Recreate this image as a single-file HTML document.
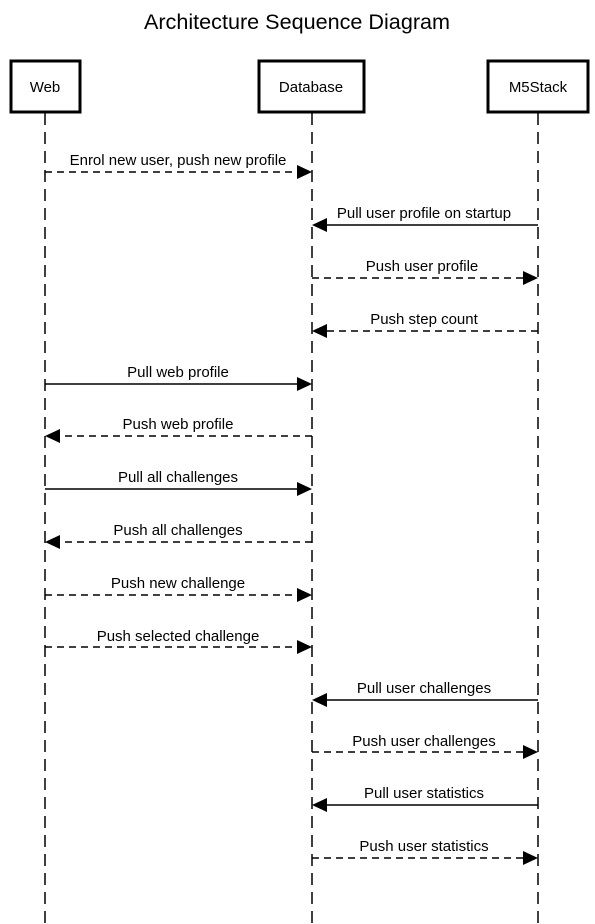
<!DOCTYPE html>
<html><head><meta charset="utf-8"><style>
html,body{margin:0;padding:0;background:#fff}
svg{display:block}
text{font-family:"Liberation Sans",Helvetica,Arial,sans-serif;fill:#000}
</style></head><body>
<svg width="595" height="924" viewBox="0 0 595 924" xmlns="http://www.w3.org/2000/svg">
<text x="297" y="29" font-size="21.6" text-anchor="middle">Architecture Sequence Diagram</text>
<g stroke="#000" stroke-width="1.5" fill="none" stroke-dasharray="12,7">
<line x1="45" y1="113" x2="45" y2="924"/>
<line x1="312" y1="113" x2="312" y2="924"/>
<line x1="538" y1="113" x2="538" y2="924"/>
</g>
<g stroke="#000" stroke-width="3" fill="#fff">
<rect x="11" y="61" width="69" height="51"/>
<rect x="259" y="61" width="105" height="51"/>
<rect x="488" y="61" width="100" height="51"/>
</g>
<g font-size="15" text-anchor="middle">
<text x="45" y="92">Web</text>
<text x="311" y="92">Database</text>
<text x="538" y="92">M5Stack</text>
</g>
<g font-size="15" text-anchor="middle">
<g stroke="#000" stroke-width="1.5" fill="none">
<line x1="45" y1="172" x2="298" y2="172" stroke-dasharray="7,5"/>
<line x1="538" y1="225" x2="326" y2="225"/>
<line x1="312" y1="278" x2="524" y2="278" stroke-dasharray="7,5"/>
<line x1="538" y1="331" x2="326" y2="331" stroke-dasharray="7,5"/>
<line x1="45" y1="384" x2="298" y2="384"/>
<line x1="312" y1="436" x2="59" y2="436" stroke-dasharray="7,5"/>
<line x1="45" y1="489" x2="298" y2="489"/>
<line x1="312" y1="542" x2="59" y2="542" stroke-dasharray="7,5"/>
<line x1="45" y1="595" x2="298" y2="595" stroke-dasharray="7,5"/>
<line x1="45" y1="647" x2="298" y2="647" stroke-dasharray="7,5"/>
<line x1="538" y1="700" x2="326" y2="700"/>
<line x1="312" y1="752" x2="524" y2="752" stroke-dasharray="7,5"/>
<line x1="538" y1="805" x2="326" y2="805"/>
<line x1="312" y1="858" x2="524" y2="858" stroke-dasharray="7,5"/>
</g>
<g fill="#000">
<polygon points="312,172 297,165 297,179"/>
<polygon points="312,225 327,218 327,232"/>
<polygon points="538,278 523,271 523,285"/>
<polygon points="312,331 327,324 327,338"/>
<polygon points="312,384 297,377 297,391"/>
<polygon points="45,436 60,429 60,443"/>
<polygon points="312,489 297,482 297,496"/>
<polygon points="45,542 60,535 60,549"/>
<polygon points="312,595 297,588 297,602"/>
<polygon points="312,647 297,640 297,654"/>
<polygon points="312,700 327,693 327,707"/>
<polygon points="538,752 523,745 523,759"/>
<polygon points="312,805 327,798 327,812"/>
<polygon points="538,858 523,851 523,865"/>
</g>
<text x="178" y="165">Enrol new user, push new profile</text>
<text x="424" y="218">Pull user profile on startup</text>
<text x="422" y="271">Push user profile</text>
<text x="424" y="324">Push step count</text>
<text x="178" y="377">Pull web profile</text>
<text x="178" y="429">Push web profile</text>
<text x="178" y="482">Pull all challenges</text>
<text x="178" y="535">Push all challenges</text>
<text x="178" y="588">Push new challenge</text>
<text x="178" y="641">Push selected challenge</text>
<text x="424" y="693">Pull user challenges</text>
<text x="424" y="746">Push user challenges</text>
<text x="424" y="798">Pull user statistics</text>
<text x="424" y="851">Push user statistics</text>
</g>
</svg>
</body></html>
